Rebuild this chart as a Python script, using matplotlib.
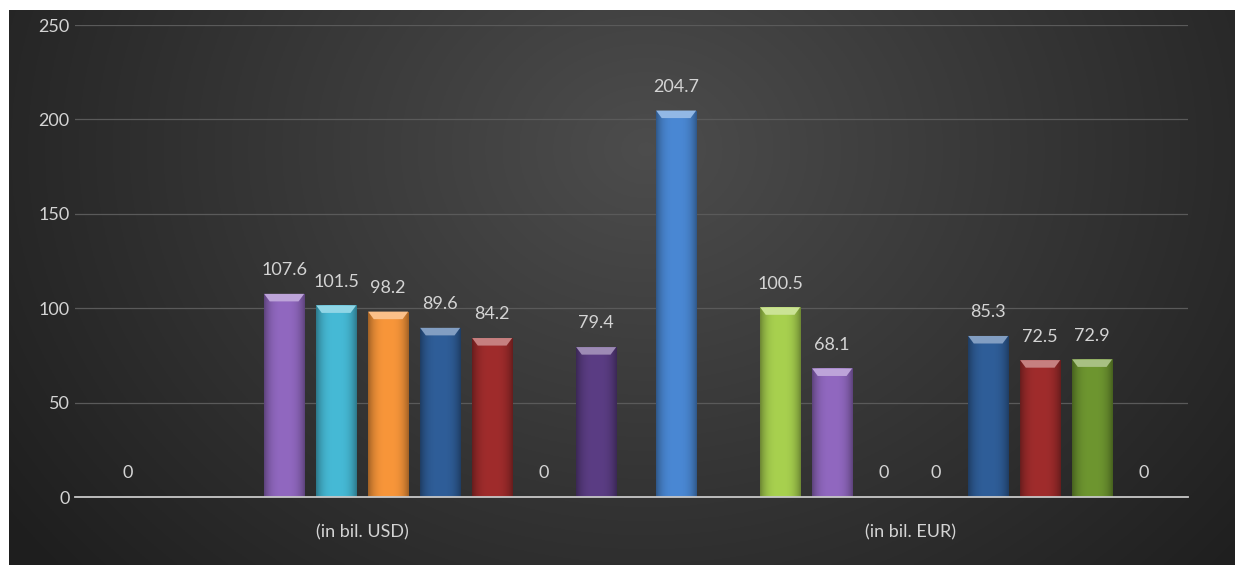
import matplotlib as mpl
import matplotlib.pyplot as plt
import numpy as np
from matplotlib.patches import Polygon
from matplotlib.colors import to_rgb

plt.rcParams['font.family'] = ['Lato', 'DejaVu Sans']

# two categories, ten series (Excel-style clustered columns)
categories = ['(in bil. USD)', '(in bil. EUR)']
usd_values = [0, None, None, 107.6, 101.5, 98.2, 89.6, 84.2, 0, 79.4]
eur_values = [204.7, None, 100.5, 68.1, 0, 0, 85.3, 72.5, 72.9, 0]
series_colors = ['#4a88d4', '#c0504d', '#a8d14f', '#9168c0', '#46bad6',
                 '#f8963a', '#2f5e99', '#a02c2c', '#6e9630', '#5b3d84']
y_ticks = [0, 50, 100, 150, 200, 250]

TXT = '#d4d4d4'

fig = plt.figure(figsize=(12.35, 5.65), dpi=100)
fig.patch.set_facecolor('white')

# dark radial background panel
bg = fig.add_axes([9 / 1235, 0, 1 - 9 / 1235, 1 - 10 / 565])
bg.set_axis_off()
yy, xx = np.mgrid[0:1:300j, 0:1:600j]
r = np.sqrt(((xx - 0.52) / 0.6) ** 2 + ((yy - 0.75) / 1.1) ** 2)
shade = np.clip(0.30 - 0.17 * r, 0.12, 0.30)
bg.imshow(np.dstack([shade, shade, shade]), extent=[0, 1, 0, 1],
          origin='lower', aspect='auto')

ax = fig.add_axes([75 / 1235, (565 - 497) / 565, (1188 - 75) / 1235, (497 - 25) / 565])
ax.patch.set_alpha(0)

n = len(series_colors)
slot = 0.0949
width = 0.073
x_cat = np.arange(len(categories))

for i in range(n):
    vals = [usd_values[i], eur_values[i]]
    xs = x_cat + (i - (n - 1) / 2) * slot
    for x, v in zip(xs, vals):
        if v is None:
            continue
        if v > 0:
            bar = ax.bar(x, v, width=width, color=series_colors[i], zorder=3)[0]
            # horizontal shading for a rounded look
            base = np.array(to_rgb(series_colors[i]))
            t = np.linspace(-1, 1, 64)
            k = 1 - 0.35 * np.abs(t) ** 3
            grad = np.clip(base[None, :] * k[:, None], 0, 1)[None, :, :]
            x0, y0 = bar.get_x(), bar.get_y()
            w, h = bar.get_width(), bar.get_height()
            im = ax.imshow(grad, extent=[x0, x0 + w, y0, y0 + h],
                           aspect='auto', zorder=3.5)
            im.set_clip_path(bar)
            # bevel cap on top
            cap = 4.0
            inset = w * 0.14
            light = np.clip(base + (1 - base) * 0.4, 0, 1)
            ax.add_patch(Polygon([[x0, y0 + h], [x0 + w, y0 + h],
                                  [x0 + w - inset, y0 + h - cap],
                                  [x0 + inset, y0 + h - cap]],
                                 closed=True, facecolor=light,
                                 edgecolor='none', zorder=4))
        ax.annotate(f'{v:g}', (x, v), xytext=(0, 17), textcoords='offset points',
                    ha='center', va='center', color=TXT, fontsize=13, zorder=5)

ax.set_xlim(-0.524, 1.507)
ax.set_ylim(0, 250)
ax.set_yticks(y_ticks)
ax.set_xticks(x_cat)
ax.set_xticklabels(categories)
ax.tick_params(axis='both', length=0, colors=TXT, labelsize=13)
ax.tick_params(axis='x', pad=20)
ax.tick_params(axis='y', pad=4)
ax.grid(axis='y', color='#5a5a5a', linewidth=0.9, zorder=0)
ax.set_axisbelow(True)
for s in ['top', 'right', 'left']:
    ax.spines[s].set_visible(False)
ax.spines['bottom'].set_color('#c8c8c8')
ax.spines['bottom'].set_linewidth(1.3)
ax.spines['bottom'].set_zorder(6)

fig.savefig('out.png', dpi=100, facecolor=fig.get_facecolor())
